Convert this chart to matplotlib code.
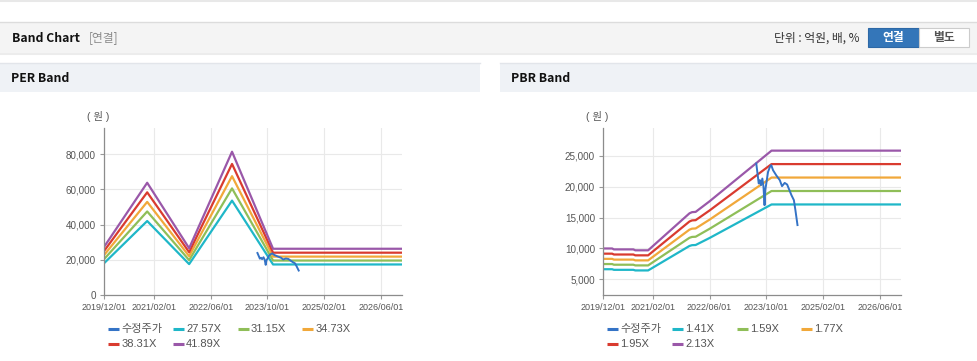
import pandas as pd
import matplotlib
matplotlib.use("Agg")
import matplotlib.pyplot as plt
from matplotlib.patches import Rectangle

plt.rcParams['font.family'] = ['Liberation Sans', 'Noto Sans CJK KR']

W, H = 978, 361

# ---- data ----
price_dates = ["2023-07-07", "2023-07-28", "2023-08-07", "2023-08-16", "2023-08-28",
               "2023-09-07", "2023-09-16", "2023-09-22", "2023-10-01", "2023-10-16",
               "2023-11-01", "2023-11-13", "2023-11-28", "2023-12-25", "2024-01-25",
               "2024-02-13", "2024-03-07", "2024-03-28", "2024-05-04", "2024-05-25",
               "2024-06-07", "2024-06-25"]
price = [23770, 20530, 21060, 20250, 21330, 19970, 17000, 19440, 20530, 22400,
         23220, 23500, 22680, 21870, 21060, 20090, 20620, 20360, 18630, 17820,
         16200, 13770]

eps_dates = ["2019-12-01", "2020-12-03", "2021-11-28", "2022-12-01", "2023-11-18", "2026-12-01"]
eps = [655, 1523, 632, 1945, 625, 625]
per_mult = [27.57, 31.15, 34.73, 38.31, 41.89]

bps_dates = ["2019-12-01", "2020-02-15", "2020-03-01", "2020-08-15", "2020-09-01",
             "2020-12-20", "2021-12-10", "2022-01-01", "2022-02-01", "2022-06-01",
             "2023-11-15", "2026-12-01"]
bps = [4680, 4680, 4610, 4610, 4540, 4540, 7360, 7450, 7470, 8280, 12142, 12142]
pbr_mult = [1.41, 1.59, 1.77, 1.95, 2.13]

tick_dates = ["2019-12-01", "2021-02-01", "2022-06-01", "2023-10-01", "2025-02-01", "2026-06-01"]
tick_labels = [d.replace("-", "/") for d in tick_dates]

band_colors = ["#1fb7c8", "#8fbe58", "#f1a83a", "#d93b2f", "#9a58a9"]
price_color = "#3473c6"

fig = plt.figure(figsize=(W / 100, H / 100), dpi=100)

# background layer in pixel coordinates
bg = fig.add_axes([0, 0, 1, 1], zorder=0)
bg.set_xlim(0, W)
bg.set_ylim(H, 0)
bg.axis("off")

bg.plot([0, W], [0.5, 0.5], color="#e8e8e8", lw=1.5)
bg.add_patch(Rectangle((0, 22), W, 30, facecolor="#f4f4f4", edgecolor="none"))
bg.plot([0, W], [22, 22], color="#dcdcdc", lw=1)
bg.plot([0, W], [52.5, 52.5], color="#d0d0d0", lw=1)
bg.plot([0, W], [54, 54], color="#ececec", lw=1.5)
bg.text(12, 38, "Band Chart", fontsize=8.8, fontweight="bold", va="center",
        family=["Noto Sans CJK KR"], color="#111111")
bg.text(89, 38, "[연결]", fontsize=8.5, va="center", family=["Noto Sans CJK KR"], color="#8a8a8a")
bg.text(860, 38, "단위 : 억원, 배, %", fontsize=8.5, va="center", ha="right",
        family=["Noto Sans CJK KR"], color="#333333")
bg.add_patch(Rectangle((868, 28), 51, 19, facecolor="#3476b9", edgecolor="#2d68a6", lw=0.8))
bg.add_patch(Rectangle((919, 28), 50, 19, facecolor="#ffffff", edgecolor="#cccccc", lw=0.8))
bg.text(893.5, 37.5, "연결", fontsize=8.5, fontweight="bold", ha="center", va="center",
        family=["Noto Sans CJK KR"], color="white")
bg.text(944, 37.5, "별도", fontsize=8.5, fontweight="bold", ha="center", va="center",
        family=["Noto Sans CJK KR"], color="#555555")

for x0, x1, title in [(0, 480, "PER Band"), (500, W, "PBR Band")]:
    bg.add_patch(Rectangle((x0, 63), x1 - x0, 29, facecolor="#eff2f6", edgecolor="none"))
    bg.plot([x0, x1], [63, 63], color="#e2e5ea", lw=1)
    bg.text(x0 + 11, 78, title, fontsize=8.8, fontweight="bold", va="center",
            family=["Noto Sans CJK KR"], color="#111111")


def draw_panel(left_px, right_px, ylim, yticks, base_dates, base_vals, mults):
    ax = fig.add_axes([left_px / W, 1 - 294.7 / H, (right_px - left_px) / W, (294.7 - 128) / H],
                      zorder=2)
    ax.patch.set_alpha(0)
    bd = pd.to_datetime(base_dates)
    for m, c in zip(mults, band_colors):
        ax.plot(bd, [v * m for v in base_vals], color=c, lw=1.6, zorder=2)
    ax.plot(pd.to_datetime(price_dates), price, color=price_color, lw=1.4, zorder=3)

    ax.set_xlim(pd.Timestamp("2019-12-01"), pd.Timestamp("2026-12-01"))
    ax.set_ylim(*ylim)
    ax.set_xticks(pd.to_datetime(tick_dates))
    ax.set_xticklabels(tick_labels, fontsize=6.5, color="#555555")
    ax.set_yticks(yticks)
    ax.set_yticklabels([f"{v:,}" for v in yticks], fontsize=7.1, color="#555555")
    ax.tick_params(axis="both", length=3, width=0.8, color="#999999", pad=3)
    ax.grid(True, color="#e9e9e9", lw=0.8, zorder=0)
    ax.set_axisbelow(True)
    for s in ["top", "right"]:
        ax.spines[s].set_visible(False)
    for s in ["left", "bottom"]:
        ax.spines[s].set_color("#8c8c8c")
        ax.spines[s].set_linewidth(0.9)

    bg.text(left_px - 6, 117, "( 원 )", fontsize=7.5, ha="center", va="center", color="#555555")

    labels = ["수정주가"] + [f"{m:.2f}X" for m in mults]
    colors = [price_color] + band_colors
    for i, (lab, c) in enumerate(zip(labels, colors)):
        row, col = divmod(i, 4)
        x = left_px + 4 + col * 64.7
        y = 329.3 + row * 15
        bg.plot([x, x + 11], [y, y], color=c, lw=2.2, solid_capstyle="butt")
        bg.text(x + 13, y, lab, fontsize=8, va="center", color="#555555")
    return ax


draw_panel(104.3, 402.3, (0, 95000), [0, 20000, 40000, 60000, 80000],
           eps_dates, eps, per_mult)
draw_panel(603.3, 901, (2460, 29540), [5000, 10000, 15000, 20000, 25000],
           bps_dates, bps, pbr_mult)

fig.savefig("out.png", dpi=100)
